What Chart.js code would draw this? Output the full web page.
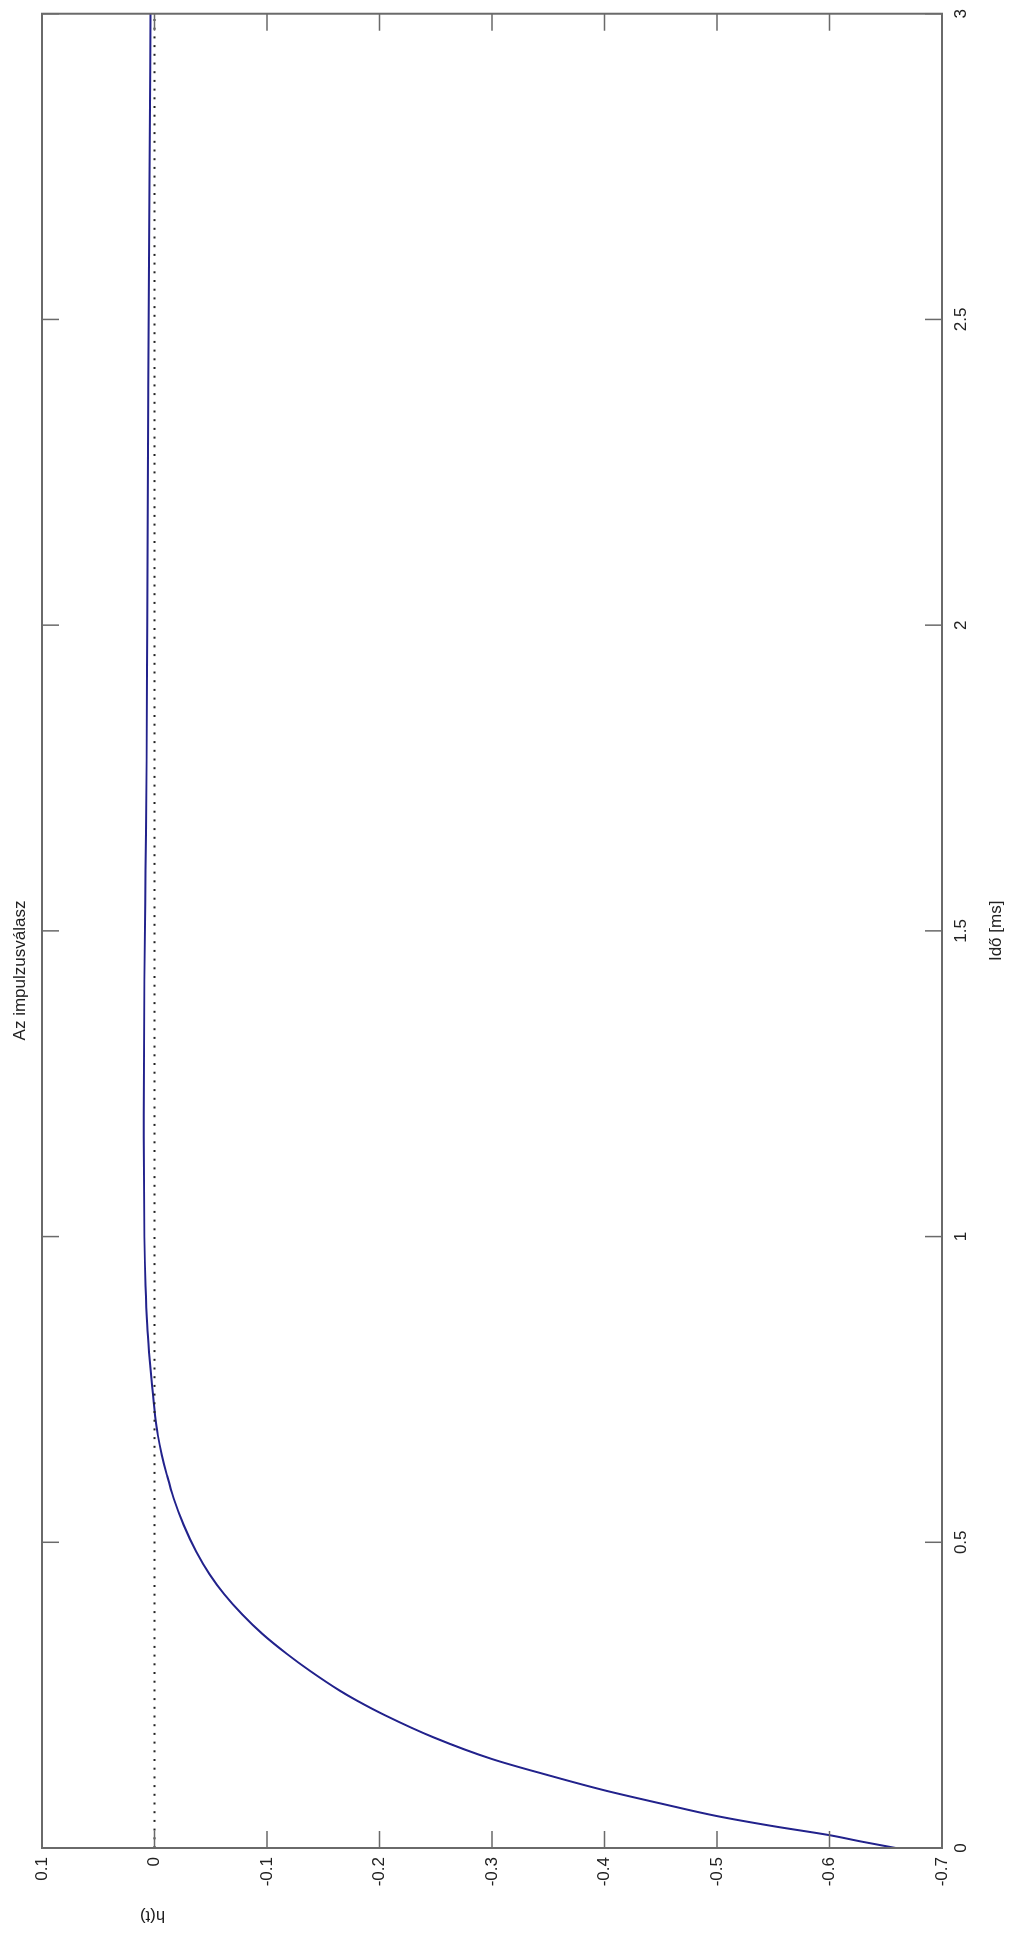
<!DOCTYPE html>
<html>
<head>
<meta charset="utf-8">
<title>Az impulzusválasz</title>
<script src="https://cdn.jsdelivr.net/npm/chart.js@4.4.1/dist/chart.umd.min.js"></script>
<style>
    html, body { margin: 0; padding: 0; background: #fff; overflow: hidden; }
    /* the figure was saved turned a quarter turn, so draw it upright and turn it */
    #rotator {
        position: absolute; left: 0; top: 0;
        width: 1936px; height: 1011px;
        transform-origin: 0 0;
        transform: translateY(1936px) rotate(-90deg);
    }
</style>
</head>
<body>
<div id="rotator"><canvas id="impulseChart" width="1936" height="1011"></canvas></div>
<script>
// Impulse response
const timeMs = [0, 0.0103, 0.021, 0.0357, 0.0522, 0.0728, 0.0943, 0.119, 0.1455, 0.181,
    0.217, 0.241, 0.257, 0.290, 0.317, 0.350, 0.382, 0.415, 0.4475, 0.485,
    0.528, 0.572, 0.610, 0.643, 0.675, 0.708, 0.762, 0.811, 0.855, 0.920,
    1.0, 1.2, 1.42, 1.6, 1.78, 2.0, 2.38, 2.73, 3.0];
const hValues = [-0.659, -0.629, -0.60, -0.55, -0.50, -0.45, -0.40, -0.35, -0.30, -0.248,
    -0.205, -0.180, -0.165, -0.138, -0.118, -0.096, -0.078, -0.062, -0.049, -0.037,
    -0.026, -0.017, -0.011, -0.0065, -0.003, -0.0005, 0.0025, 0.0048, 0.0065, 0.008,
    0.009, 0.0095, 0.009, 0.008, 0.007, 0.0065, 0.0055, 0.0045, 0.0035];

// Dotted zero reference line
const zeroLineTime = [0, 3];
const zeroLineValue = [0, 0];

const timeTicks = [0, 0.5, 1, 1.5, 2, 2.5, 3];
const hTicks = [0.1, 0, -0.1, -0.2, -0.3, -0.4, -0.5, -0.6, -0.7];

const FONT = { family: 'Arial, "Liberation Sans", Helvetica, sans-serif', size: 17 };
const FRAME_COLOR = '#6a6a6a';

// plain MATLAB-like numbers: 1 not 1.0
function plainTick(value) {
    return String(Number(value.toFixed(2)));
}

// MATLAB style box with inward ticks on all four sides, plus the y label
const matlabFrame = {
    id: 'matlabFrame',
    afterDraw(chart) {
        const ctx = chart.ctx;
        const a = chart.chartArea;
        const xs = chart.scales.x;
        const ys = chart.scales.y;
        const len = 17;
        ctx.save();
        ctx.strokeStyle = FRAME_COLOR;
        ctx.lineWidth = 1.5;
        ctx.beginPath();
        timeTicks.forEach(v => {
            const px = xs.getPixelForValue(v);
            ctx.moveTo(px, a.bottom); ctx.lineTo(px, a.bottom - len);
            ctx.moveTo(px, a.top); ctx.lineTo(px, a.top + len);
        });
        hTicks.forEach(v => {
            const py = ys.getPixelForValue(v);
            ctx.moveTo(a.left, py); ctx.lineTo(a.left + len, py);
            ctx.moveTo(a.right, py); ctx.lineTo(a.right - len, py);
        });
        ctx.stroke();
        ctx.lineWidth = 2;
        ctx.strokeRect(a.left, a.top, a.right - a.left, a.bottom - a.top);

        // ylabel sits near the zero tick in the original
        ctx.fillStyle = '#222';
        ctx.font = FONT.size + 'px ' + FONT.family;
        ctx.textAlign = 'center';
        ctx.textBaseline = 'middle';
        ctx.translate(20, ys.getPixelForValue(0) - 2);
        ctx.rotate(-Math.PI / 2);
        ctx.fillText('h(t)', 0, 0);
        ctx.restore();
    }
};

const curvePoints = timeMs.map((t, i) => ({ x: t, y: hValues[i] }));
const zeroPoints = zeroLineTime.map((t, i) => ({ x: t, y: zeroLineValue[i] }));

new Chart(document.getElementById('impulseChart').getContext('2d'), {
    type: 'line',
    data: {
        datasets: [{
            label: 'zero',
            data: zeroPoints,
            borderColor: '#222',
            borderWidth: 2,
            borderDash: [2, 6.7],
            pointRadius: 0,
            fill: false
        }, {
            label: 'h(t)',
            data: curvePoints,
            borderColor: '#22228c',
            borderWidth: 2,
            pointRadius: 0,
            cubicInterpolationMode: 'monotone',
            fill: false
        }]
    },
    options: {
        responsive: false,
        animation: false,
        layout: { padding: { left: 0, right: 5, top: 0, bottom: 0 } },
        plugins: {
            legend: { display: false },
            tooltip: { enabled: false },
            title: {
                display: true,
                text: 'Az impulzusválasz',
                color: '#222',
                font: { family: FONT.family, size: 17, weight: 'normal' },
                padding: { top: 10, bottom: 11.6 }
            }
        },
        scales: {
            x: {
                type: 'linear',
                min: 0,
                max: 3,
                grid: { display: false, drawTicks: false },
                border: { display: false },
                ticks: {
                    stepSize: 0.5,
                    maxRotation: 0,
                    padding: 9,
                    color: '#222',
                    font: FONT,
                    callback: plainTick
                },
                title: {
                    display: true,
                    text: 'Idő [ms]',
                    color: '#222',
                    font: FONT,
                    padding: { top: 0, bottom: 4 }
                },
                afterFit(scale) { scale.height = 69; }
            },
            y: {
                type: 'linear',
                min: -0.7,
                max: 0.1,
                grid: { display: false, drawTicks: false },
                border: { display: false },
                ticks: {
                    stepSize: 0.1,
                    padding: 9,
                    color: '#222',
                    font: FONT,
                    callback: plainTick
                },
                afterFit(scale) { scale.width = 88; }
            }
        }
    },
    plugins: [matlabFrame]
});
</script>
</body>
</html>
